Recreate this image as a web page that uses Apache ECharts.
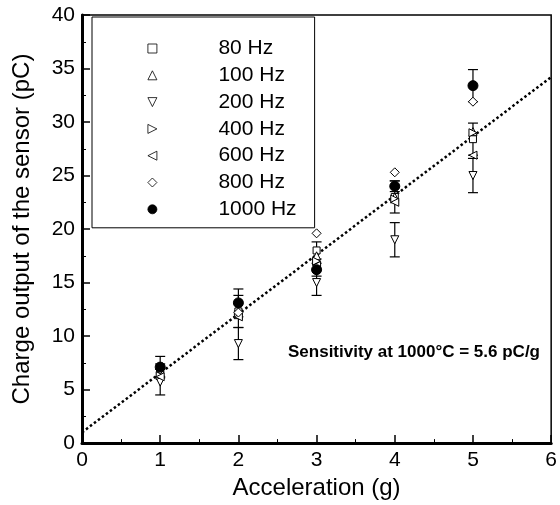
<!DOCTYPE html>
<html>
<head>
<meta charset="utf-8">
<script src="https://cdn.jsdelivr.net/npm/echarts@6/dist/echarts.min.js"></script>
<style>
html, body { margin: 0; padding: 0; background: #fff; }
#chart { width: 560px; height: 505px; }
</style>
</head>
<body>
<div id="chart"></div>
<script>
// 数据
const accel = [1, 2, 3, 4, 5];
const freqNames = ['80 Hz', '100 Hz', '200 Hz', '400 Hz', '600 Hz', '800 Hz', '1000 Hz'];

const q80 = [6.8, 12.3, 18.0, 23.0, 28.4];
const q100 = [6.5, 12.0, 17.5, 23.0, 29.1];
const q200 = [5.7, 9.3, 15.0, 19.0, 25.0];
const q400 = [6.3, 12.0, 17.0, 22.8, 29.0];
const q600 = [6.2, 11.8, 16.6, 22.5, 26.9];
const q800 = [6.9, 12.2, 19.6, 25.3, 31.9];
const q1000 = [7.1, 13.1, 16.2, 24.0, 33.4];

const err80 = [0.6, 1.5, 0.8, 1.5, 1.5];
const err200 = [1.2, 1.5, 1.2, 1.6, 1.6];
const err1000 = [1.0, 1.3, 0.6, 0.5, 1.5];

// 拟合线端点
const fitX = [0, 6];
const fitY = [1.0, 34.2];

const xTicks = [0, 1, 2, 3, 4, 5, 6];
const yTicks = [0, 5, 10, 15, 20, 25, 30, 35, 40];

const FONT = 'Arial, "Liberation Sans", sans-serif';

// 三角形朝向
const TRI_DOWN = 'path://M0,0L10,0L5,10Z';
const TRI_RIGHT = 'path://M0,0L10,5L0,10Z';
const TRI_LEFT = 'path://M10,0L0,5L10,10Z';

const markerDefs = [
	{ name: '80 Hz', data: q80, symbol: 'rect', size: 7, fill: '#fff' },
	{ name: '100 Hz', data: q100, symbol: 'triangle', size: 8, fill: '#fff' },
	{ name: '200 Hz', data: q200, symbol: TRI_DOWN, size: 8, fill: '#fff' },
	{ name: '400 Hz', data: q400, symbol: TRI_RIGHT, size: 8, fill: '#fff' },
	{ name: '600 Hz', data: q600, symbol: TRI_LEFT, size: 8, fill: '#fff' },
	{ name: '800 Hz', data: q800, symbol: 'diamond', size: 9, fill: '#fff' },
	{ name: '1000 Hz', data: q1000, symbol: 'circle', size: 10, fill: '#000' }
];

const errDefs = [
	{ name: '80 Hz err', data: q80, err: err80 },
	{ name: '200 Hz err', data: q200, err: err200 },
	{ name: '1000 Hz err', data: q1000, err: err1000 }
];

function renderErrorBar(params, api) {
	const x = api.value(0);
	const top = api.coord([x, api.value(2)]);
	const bot = api.coord([x, api.value(1)]);
	const w = 5;
	const style = { stroke: '#000', lineWidth: 1.2 };
	return {
		type: 'group',
		children: [
			{ type: 'line', shape: { x1: top[0], y1: top[1], x2: bot[0], y2: bot[1] }, style },
			{ type: 'line', shape: { x1: top[0] - w, y1: top[1], x2: top[0] + w, y2: top[1] }, style },
			{ type: 'line', shape: { x1: bot[0] - w, y1: bot[1], x2: bot[0] + w, y2: bot[1] }, style }
		]
	};
}

const axisCommon = {
	axisLine: { show: true, lineStyle: { color: '#000', width: 3 } },
	axisTick: { show: true, inside: true, length: 8, lineStyle: { color: '#000', width: 1.5 } },
	minorTick: { show: true, splitNumber: 2, length: 4, lineStyle: { color: '#000', width: 1 } },
	splitLine: { show: false },
	axisLabel: { color: '#000', fontSize: 21, fontFamily: FONT },
	nameTextStyle: { color: '#000', fontSize: 24, fontFamily: FONT }
};

const series = [];

errDefs.forEach(d => {
	series.push({
		name: d.name,
		type: 'custom',
		z: 1,
		renderItem: renderErrorBar,
		encode: { x: 0, y: [1, 2] },
		data: accel.map((x, i) => [x, d.data[i] - d.err[i], d.data[i] + d.err[i]])
	});
});

markerDefs.forEach(d => {
	series.push({
		name: d.name,
		type: 'scatter',
		z: 3,
		symbol: d.symbol,
		symbolSize: d.size,
		symbolKeepAspect: true,
		itemStyle: { color: d.fill, borderColor: '#000', borderWidth: 1, opacity: 1 },
		data: accel.map((x, i) => [x, d.data[i]])
	});
});

series.push({
	name: 'fit',
	type: 'line',
	z: 2,
	symbol: 'none',
	lineStyle: { color: '#000', width: 2.5, type: [2.5, 2.5] },
	data: fitX.map((x, i) => [x, fitY[i]])
});

const option = {
	animation: false,
	backgroundColor: '#fff',
	grid: {
		left: 82,
		right: 7,
		top: 15,
		bottom: 59,
		show: true,
		borderColor: '#000',
		borderWidth: 1.5,
		backgroundColor: 'transparent'
	},
	legend: {
		data: markerDefs.map(d => ({ name: d.name, icon: d.symbol })),
		orient: 'vertical',
		left: 92,
		top: 17,
		padding: [21, 18, 8, 55.5],
		itemWidth: 9,
		itemHeight: 9,
		itemGap: 5.8,
		symbolKeepAspect: true,
		selectedMode: false,
		backgroundColor: '#fff',
		borderColor: '#000',
		borderWidth: 1,
		itemStyle: { borderWidth: 0.8 },
		textStyle: { color: '#000', fontSize: 21, lineHeight: 20, fontFamily: FONT, padding: [0, 0, 0, 56.5] }
	},
	xAxis: {
		type: 'value',
		min: xTicks[0],
		max: xTicks[xTicks.length - 1],
		interval: 1,
		name: 'Acceleration (g)',
		nameLocation: 'middle',
		nameGap: 30,
		...axisCommon,
		axisLabel: { ...axisCommon.axisLabel, margin: 7 }
	},
	yAxis: {
		type: 'value',
		min: yTicks[0],
		max: yTicks[yTicks.length - 1],
		interval: 5,
		name: 'Charge output of the sensor (pC)',
		nameLocation: 'middle',
		nameGap: 48,
		...axisCommon,
		axisLabel: { ...axisCommon.axisLabel, margin: 7 }
	},
	graphic: [{
		type: 'text',
		x: 414,
		y: 352,
		style: {
			text: 'Sensitivity at 1000°C = 5.6 pC/g',
			font: 'bold 17px Arial, "Liberation Sans", sans-serif',
			fill: '#000',
			align: 'center',
			verticalAlign: 'middle'
		}
	}],
	series: series
};

const chart = echarts.init(document.getElementById('chart'));
chart.setOption(option);
</script>
</body>
</html>
